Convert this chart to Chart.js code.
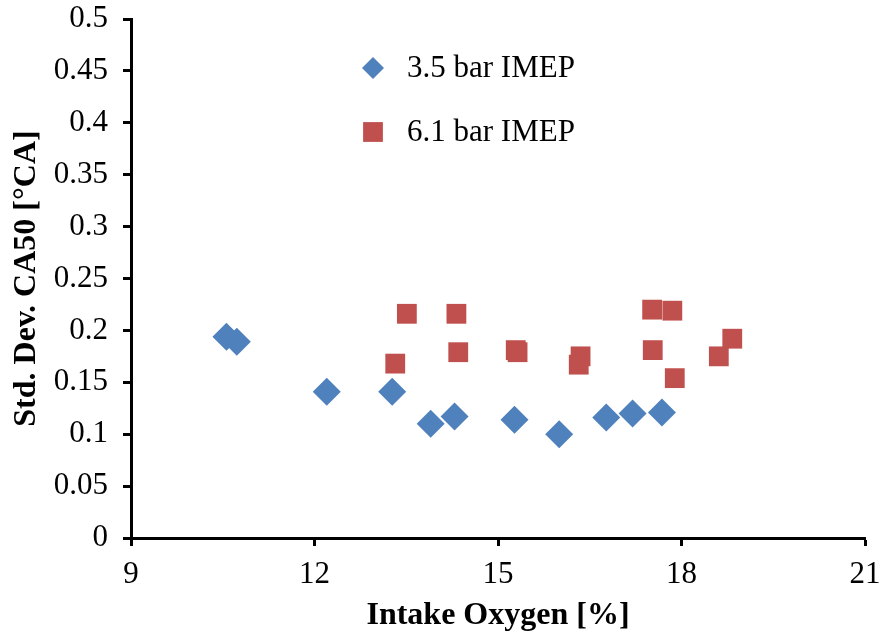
<!DOCTYPE html>
<html>
<head>
<meta charset="utf-8">
<script src="https://cdn.jsdelivr.net/npm/chart.js@4/dist/chart.umd.min.js"></script>
<style>
  html, body { margin: 0; padding: 0; background: #fff; }
  #wrap { width: 882px; height: 639px; }
</style>
</head>
<body>
<div id="wrap"><canvas id="c"></canvas></div>
<script>
// intake O2 [%] and std dev of CA50 [°CA]
const lowLoadX = [10.56, 10.73, 12.20, 13.27, 13.90, 14.29, 15.27, 16.00, 16.77, 17.20, 17.68];
const lowLoadY = [0.194, 0.189, 0.141, 0.141, 0.110, 0.117, 0.114, 0.100, 0.116, 0.120, 0.121];
const highLoadX = [13.32, 13.51, 14.32, 14.35, 15.29, 15.32, 16.35, 16.32, 17.52, 17.85, 17.53, 17.89, 18.61, 18.83];
const highLoadY = [0.168, 0.216, 0.216, 0.179, 0.181, 0.179, 0.175, 0.167, 0.220, 0.219, 0.181, 0.154, 0.175, 0.192];
const seriesNames = ['3.5 bar IMEP', '6.1 bar IMEP'];
const xTicks = [9, 12, 15, 18, 21];

const toPts = (xs, ys) => xs.map((x, i) => ({ x: x, y: ys[i] }));

// legend sits inside the plot, like the original
const insideLegend = {
  id: 'insideLegend',
  afterDatasetsDraw(chart) {
    const ctx = chart.ctx;
    const rows = [{ y: 68, r: 11 }, { y: 132, r: 14 }];
    ctx.save();
    chart.data.datasets.forEach((ds, i) => {
      ctx.fillStyle = ds.backgroundColor;
      ctx.strokeStyle = ds.backgroundColor;
      ctx.lineWidth = 0;
      Chart.helpers.drawPoint(ctx, {
        pointStyle: ds.pointStyle, radius: rows[i].r, rotation: 0, borderWidth: 0
      }, 373, rows[i].y);
    });
    ctx.fillStyle = '#000';
    ctx.font = '31px "Liberation Serif"';
    ctx.textBaseline = 'middle';
    chart.data.datasets.forEach((ds, i) => {
      ctx.fillText(ds.label, 407, rows[i].y + 1);
    });
    ctx.restore();
  }
};

new Chart(document.getElementById('c'), {
  type: 'scatter',
  data: {
    datasets: [
      {
        label: seriesNames[0],
        data: toPts(lowLoadX, lowLoadY),
        pointStyle: 'rectRot',
        pointRadius: 14,
        pointHoverRadius: 14,
        backgroundColor: '#4F81BD',
        borderColor: '#4F81BD',
        borderWidth: 0
      },
      {
        label: seriesNames[1],
        data: toPts(highLoadX, highLoadY),
        pointStyle: 'rect',
        pointRadius: 14,
        pointHoverRadius: 14,
        backgroundColor: '#C0504D',
        borderColor: '#C0504D',
        borderWidth: 0
      }
    ]
  },
  options: {
    responsive: true,
    maintainAspectRatio: false,
    animation: false,
    events: [],
    layout: { padding: { left: 8, right: 17, top: 19, bottom: 4 } },
    plugins: { legend: { display: false }, tooltip: { enabled: false } },
    scales: {
      x: {
        type: 'linear',
        min: 9, max: 21,
        afterBuildTicks: s => { s.ticks = xTicks.map(v => ({ value: v })); },
        afterFit: s => { s.height = 97; s.paddingLeft = 0; s.paddingRight = 0; },
        border: { display: true, color: '#000', width: 3 },
        grid: { display: true, drawOnChartArea: false, drawTicks: true, tickLength: 8, tickWidth: 3, color: '#000' },
        ticks: { color: '#000', padding: 10, maxRotation: 0, font: { family: 'Liberation Serif', size: 31 } },
        title: {
          display: true, text: 'Intake Oxygen [%]', color: '#000',
          font: { family: 'Liberation Serif', size: 32, weight: 'bold' }, padding: { top: 4, bottom: 0 }
        }
      },
      y: {
        min: 0, max: 0.5,
        ticks: {
          stepSize: 0.05, color: '#000', padding: 15,
          font: { family: 'Liberation Serif', size: 31 },
          callback: v => +v.toFixed(2)
        },
        afterFit: s => { s.width = 123; s.paddingTop = 0; s.paddingBottom = 0; },
        border: { display: true, color: '#000', width: 3 },
        grid: { display: true, drawOnChartArea: false, drawTicks: true, tickLength: 8, tickWidth: 3, color: '#000' },
        title: {
          display: true, text: 'Std. Dev. CA50 [°CA]', color: '#000',
          font: { family: 'Liberation Serif', size: 32, weight: 'bold' }, padding: { top: 0, bottom: 0 }
        }
      }
    }
  },
  plugins: [insideLegend]
});
</script>
</body>
</html>
